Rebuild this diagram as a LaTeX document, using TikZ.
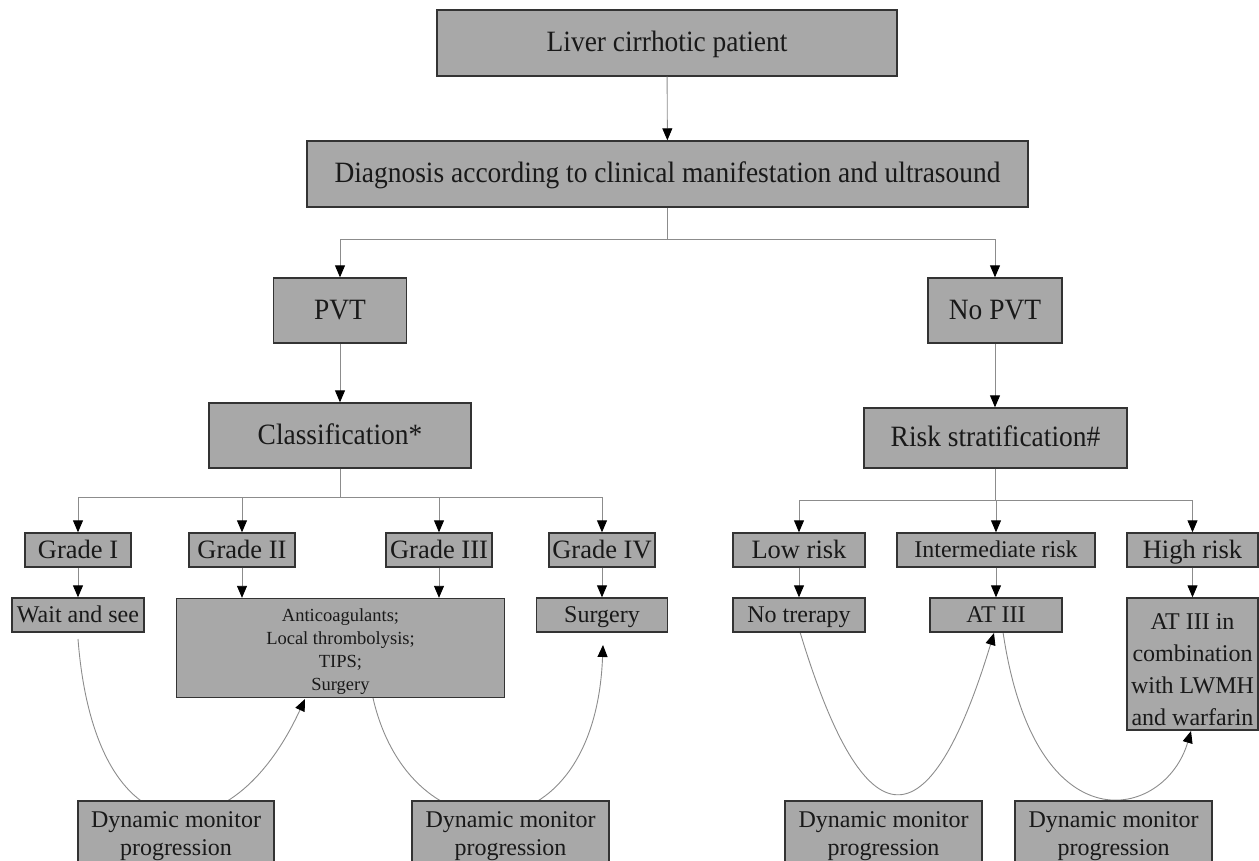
\documentclass[tikz,border=0pt]{standalone}
\usepackage{fontspec}
\setmainfont{Liberation Serif}
\newfontfamily\condfont[FakeStretch=0.93]{Liberation Serif}
\usetikzlibrary{arrows.meta}
\definecolor{boxgray}{HTML}{A8A8A8}
\definecolor{edgegray}{HTML}{333333}
\definecolor{linegray}{HTML}{8C8C8C}
\tikzset{
  box/.style={draw=edgegray, fill=boxgray, line width=1.4pt, inner sep=0pt, align=center, text=black!90},
  ftop/.style={font=\condfont\fontsize{29.5}{34}\selectfont, text height=24.4pt, text depth=6.5pt},
  fbig/.style={font=\fontsize{26.5}{32}\selectfont, text height=22pt, text depth=5.8pt},
  fmid/.style={font=\fontsize{24}{28}\selectfont},
  fmidone/.style={fmid, text height=20pt, text depth=5.3pt},
  fsmall/.style={font=\fontsize{18.5}{23}\selectfont},
  conn/.style={draw=linegray, line width=0.9pt},
  arrowed/.style={conn, -{Triangle[length=12pt,width=10pt,black]}},
}
\begin{document}
\begin{tikzpicture}[x=1pt,y=-1pt]
\useasboundingbox (0,0) rectangle (1259,860);
% curves first (boxes drawn over them)
\coordinate (c1s) at (78,639);
\coordinate (c2e) at (603,645);
\draw[arrowed] (c1s) .. controls (95,860) and (231,860) .. (305,699);
\draw[arrowed] (373,698) .. controls (410,860) and (595,860) .. (c2e);
\draw[arrowed] (800,632) .. controls (865,847) and (929,847) .. (994,633);
\draw[arrowed] (1003,632) .. controls (1035,850) and (1165,820) .. (1191,731);

% nodes
\node[box,ftop,minimum width=460,minimum height=66] (top) at (667,43) {Liver cirrhotic patient};
\node[box,ftop,minimum width=721,minimum height=66] (diag) at (667.5,174) {Diagnosis according to clinical manifestation and ultrasound};
\node[box,ftop,minimum width=133,minimum height=65] (pvt) at (340,310.5) {PVT};
\node[box,ftop,minimum width=134,minimum height=65] (nopvt) at (995,310.5) {No PVT};
\node[box,ftop,minimum width=262,minimum height=65] (class) at (340,435.5) {Classification*};
\node[box,ftop,minimum width=263,minimum height=60] (risk) at (995.5,438) {Risk stratification\#};

\node[box,fbig,minimum width=106,minimum height=34] (g1) at (78,550) {Grade I};
\node[box,fbig,minimum width=106,minimum height=34] (g2) at (242,550) {Grade II};
\node[box,fbig,minimum width=106,minimum height=34] (g3) at (439,550) {Grade III};
\node[box,fbig,minimum width=106,minimum height=34] (g4) at (602,550) {Grade IV};
\node[box,fbig,minimum width=132,minimum height=34] (low) at (799,550) {Low risk};
\node[box,fmidone,minimum width=198,minimum height=34] (inter) at (996,550) {Intermediate risk};
\node[box,fbig,minimum width=131,minimum height=34] (high) at (1192.5,550) {High risk};

\node[box,fmidone,minimum width=132,minimum height=34] (wait) at (78,615) {Wait and see};
\node[box,fsmall,minimum width=328,minimum height=99] (big) at (340.5,648) {\rule{0pt}{19pt}Anticoagulants;\\Local thrombolysis;\\TIPS;\\Surgery};
\node[box,fmidone,minimum width=131,minimum height=34] (surg) at (602,615) {Surgery};
\node[box,fmidone,minimum width=132,minimum height=34] (notr) at (799,615) {No trerapy};
\node[box,fmidone,minimum width=132,minimum height=34] (at3) at (996,615) {AT III};
\node[box,font=\fontsize{24}{32}\selectfont,minimum width=131,minimum height=132] (comb) at (1192.5,664) {\rule{0pt}{28pt}AT III in\\combination\\with LWMH\\and warfarin};

\node[box,font=\fontsize{24}{27.5}\selectfont,minimum width=196,minimum height=70] (m1) at (176,836) {Dynamic monitor\\progression};
\node[box,font=\fontsize{24}{27.5}\selectfont,minimum width=197,minimum height=70] (m2) at (510.5,836) {Dynamic monitor\\progression};
\node[box,font=\fontsize{24}{27.5}\selectfont,minimum width=197,minimum height=70] (m3) at (883.5,836) {Dynamic monitor\\progression};
\node[box,font=\fontsize{24}{27.5}\selectfont,minimum width=197,minimum height=70] (m4) at (1113.5,836) {Dynamic monitor\\progression};

% connectors
\draw[arrowed] (top) -- (diag);
\coordinate (j1) at (667.5,239);
\draw[conn] (diag) -- (j1);
\draw[arrowed] (j1) -| (pvt);
\draw[arrowed] (j1) -| (nopvt);
\draw[arrowed] (pvt) -- (class);
\draw[arrowed] (nopvt) -- (nopvt |- risk.north);

\coordinate (j2) at (340,497);
\draw[conn] (class) -- (j2);
\draw[arrowed] (j2) -| (g1);
\draw[arrowed] (j2) -| (g2);
\draw[arrowed] (j2) -| (g3);
\draw[arrowed] (j2) -| (g4);

\coordinate (j3) at (995.5,500);
\draw[conn] (risk) -- (j3);
\draw[arrowed] (j3) -| (low);
\draw[arrowed] (j3) -| (inter);
\draw[arrowed] (j3) -| (high);

\draw[arrowed] (g1) -- (wait);
\draw[arrowed] (g2.south) -- (g2.south |- big.north);
\draw[arrowed] (g3.south) -- (g3.south |- big.north);
\draw[arrowed] (g4) -- (surg);
\draw[arrowed] (low) -- (notr);
\draw[arrowed] (inter) -- (at3);
\draw[arrowed] (high) -- (comb);
\end{tikzpicture}
\end{document}
